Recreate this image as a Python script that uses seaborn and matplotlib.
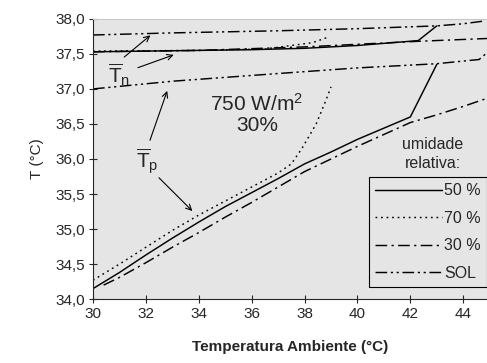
import pandas as pd
import seaborn as sns
import matplotlib.pyplot as plt

# data
# upper group (T_n)
tn_50_x = [30, 32, 34, 36, 38, 40, 42.3, 43.0]
tn_50_y = [37.53, 37.54, 37.55, 37.56, 37.58, 37.62, 37.69, 37.90]
tn_70_x = [30, 34, 36.5, 37.3, 38.3, 38.9]
tn_70_y = [37.54, 37.55, 37.57, 37.61, 37.66, 37.74]
tn_30_x = [30, 34, 38, 42.3, 44.9]
tn_30_y = [37.53, 37.55, 37.60, 37.68, 37.72]
tn_sol_x = [30, 33, 37, 40, 43, 44, 44.8]
tn_sol_y = [37.77, 37.80, 37.83, 37.86, 37.90, 37.93, 37.97]

# lower group (T_p)
tp_50_x = [30, 31, 32, 33, 34, 35, 36, 37, 38, 39, 40, 41, 42, 43.0]
tp_50_y = [34.15, 34.38, 34.63, 34.87, 35.10, 35.32, 35.52, 35.72, 35.93, 36.10,
           36.28, 36.44, 36.60, 37.35]
tp_70_x = [30, 31, 32, 33, 34, 35, 36, 37, 37.5, 37.9, 38.44, 38.8, 39.0]
tp_70_y = [34.27, 34.50, 34.74, 34.98, 35.20, 35.40, 35.60, 35.80, 35.93, 36.15,
           36.50, 36.83, 37.03]
tp_30_x = [30.4, 31, 32, 33, 34, 35, 36, 37, 38, 39, 40, 41, 42, 43, 44, 44.85]
tp_30_y = [34.20, 34.31, 34.52, 34.74, 34.95, 35.17, 35.38, 35.60, 35.82, 36.00,
           36.18, 36.35, 36.52, 36.63, 36.75, 36.86]
tp_sol_x = [30, 33, 37, 40, 43, 44.6, 44.85]
tp_sol_y = [37.00, 37.11, 37.22, 37.30, 37.36, 37.42, 37.50]

x_ticks = [30, 32, 34, 36, 38, 40, 42, 44]
y_ticks = [34.0, 34.5, 35.0, 35.5, 36.0, 36.5, 37.0, 37.5, 38.0]
y_tick_labels = ['34,0', '34,5', '35,0', '35,5', '36,0', '36,5', '37,0', '37,5', '38,0']
legend_labels = ['50 %', '70 %', '30 %', 'SOL']

sns.set_style('ticks', {'axes.facecolor': '#e5e5e5'})
plt.rcParams['font.family'] = ['Liberation Sans', 'DejaVu Sans']
plt.rcParams['mathtext.fontset'] = 'custom'
plt.rcParams['mathtext.rm'] = 'Liberation Sans'
plt.rcParams['mathtext.it'] = 'Liberation Sans'

styles = {
    '50 %': '-',
    '70 %': (0, (1.2, 2.6)),
    '30 %': (0, (8, 3, 1.5, 3)),
    'SOL': (0, (8, 2.5, 1.5, 2.5, 1.5, 2.5)),
}

fig = plt.figure(figsize=(4.87, 3.63), dpi=100)
ax = fig.add_axes([0.191, 0.176, 0.809, 0.772])

series = [
    ('50 %', tn_50_x, tn_50_y), ('70 %', tn_70_x, tn_70_y),
    ('30 %', tn_30_x, tn_30_y), ('SOL', tn_sol_x, tn_sol_y),
    ('50 %', tp_50_x, tp_50_y), ('70 %', tp_70_x, tp_70_y),
    ('30 %', tp_30_x, tp_30_y), ('SOL', tp_sol_x, tp_sol_y),
]
for name, xs, ys in series:
    df = pd.DataFrame({'x': xs, 'y': ys})
    sns.lineplot(x='x', y='y', data=df, ax=ax, color='black', linewidth=1.05,
                 linestyle=styles[name])

ax.set_xlim(30, 44.9)
ax.set_ylim(34, 38)
ax.set_xticks(x_ticks)
ax.set_yticks(y_ticks)
ax.set_yticklabels(y_tick_labels)
ax.tick_params(direction='inout', length=6, width=0.8, labelsize=11, pad=3)
ax.spines['right'].set_visible(False)
ax.spines['top'].set_color('#c8c8c8')
ax.set_xlabel('Temperatura Ambiente (°C)', fontsize=11, fontweight='bold', labelpad=13)
ax.set_ylabel('T (°C)', fontsize=11, labelpad=8)

# legend
handles = [plt.Line2D([], [], color='black', linewidth=1.05, linestyle=styles[n])
           for n in legend_labels]
leg = ax.legend(handles, legend_labels, loc='lower right', bbox_to_anchor=(1.0, 0.043),
                borderaxespad=0, fontsize=11.5, handlelength=4.2, handletextpad=0.1,
                labelspacing=0.78, borderpad=0.4, fancybox=False, framealpha=1,
                edgecolor='black')
leg.get_frame().set_linewidth(0.8)
ax.text(42.85, 36.07, 'umidade\nrelativa:', ha='center', va='center', fontsize=11.5,
        linespacing=1.3)

# labels in the plot
ax.text(36.2, 36.64, '750 W/m$^2$\n30%', ha='center', va='center', fontsize=15,
        linespacing=1.1)

ax.text(31.0, 37.2, r'$\overline{\mathrm{T}}_\mathrm{n}$', ha='center', va='center',
        fontsize=15)
ax.annotate('', xy=(32.25, 37.79), xytext=(31.1, 37.43),
            arrowprops=dict(arrowstyle='->', color='black', lw=0.8))
ax.annotate('', xy=(33.15, 37.5), xytext=(31.6, 37.29),
            arrowprops=dict(arrowstyle='->', color='black', lw=0.8))

ax.text(32.05, 35.97, r'$\overline{\mathrm{T}}_\mathrm{p}$', ha='center', va='center',
        fontsize=15)
ax.annotate('', xy=(32.84, 37.01), xytext=(32.12, 36.23),
            arrowprops=dict(arrowstyle='->', color='black', lw=0.8))
ax.annotate('', xy=(33.83, 35.23), xytext=(32.42, 35.76),
            arrowprops=dict(arrowstyle='->', color='black', lw=0.8))

fig.savefig('out.png', dpi=100)
